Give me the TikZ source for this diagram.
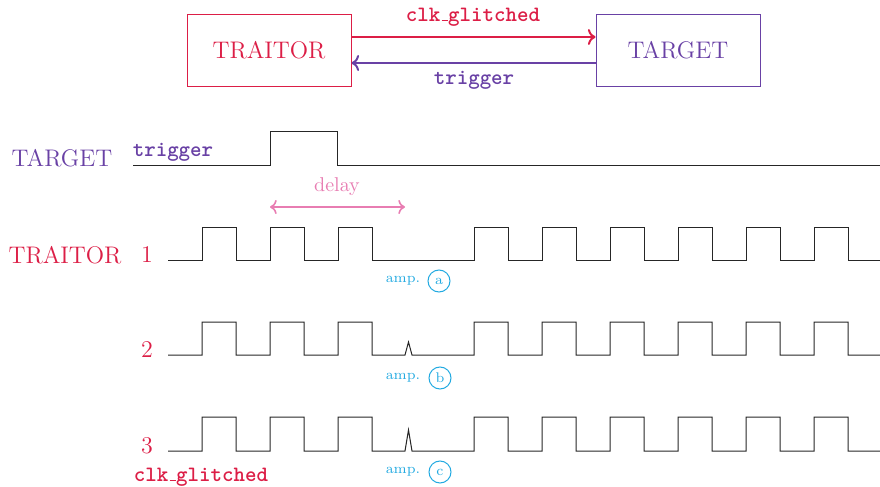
\documentclass[tikz,border=0pt]{standalone}
\usetikzlibrary{arrows.meta}
\definecolor{traitorc}{RGB}{220,30,70}
\definecolor{targetc}{RGB}{105,65,165}
\definecolor{delayc}{RGB}{232,125,178}
\definecolor{ampc}{RGB}{35,170,225}
% short underscore in the classic OT1 style
\newcommand{\ttus}{\kern.06em\vbox{\hrule height .5pt width .3em}}
\begin{document}
\begin{tikzpicture}[x=0.5pt,y=-0.5pt,
  box/.style={draw, minimum width=82pt, minimum height=36pt, font=\large, inner sep=0pt, line width=0.5pt},
  sig/.style={black!85, line width=0.5pt, line join=miter},
  link/.style={->, line width=1pt},
  rowlabel/.style={font=\large, text=traitorc},
  amplabel/.style={font=\scriptsize, text=ampc},
  badge/.style={circle, draw=ampc, text=ampc, font=\scriptsize, minimum size=11pt, inner sep=0pt, line width=0.5pt},
  ttlabel/.style={font=\fontsize{10.95}{13}\selectfont\ttfamily\bfseries}]
\useasboundingbox (0,0) rectangle (880,487);

% block diagram
\node[box, draw=traitorc, text=traitorc] (tr) at (269,50) {TRAITOR};
\node[box, draw=targetc, text=targetc] (tg) at (678,50) {TARGET};
\draw[link, traitorc] ([yshift=6.5pt]tr.east) -- ([yshift=6.5pt]tg.west);
\draw[link, targetc] ([yshift=-6.5pt]tg.west) -- ([yshift=-6.5pt]tr.east);
\node[ttlabel, text=traitorc] (lclk) at (473,17) {clk\ttus glitched};
\node[ttlabel, text=targetc] (ltrig) at (474,80) {trigger};

% trigger waveform
\node[font=\large, text=targetc] (ltarget) at (62,158) {TARGET};
\node[ttlabel, text=targetc] (wtrig) at (173,152) {trigger};
\draw[sig] (133,165) -- (270,165) -- (270,131) -- (337,131) -- (337,165) -- (880,165);

% delay
\draw[<->, delayc, line width=0.8pt] (270,207) -- (405,207);
\node[text=delayc] (ldelay) at (337,187) {delay};

% clock rows
\node[rowlabel] (ltraitor) at (65,255) {TRAITOR};
\node[rowlabel] (n1) at (147,255) {1};
\node[rowlabel] (n2) at (147,350) {2};
\node[rowlabel] (n3) at (147,446) {3};
\node[ttlabel, text=traitorc] (lclkg) at (201,477) {clk\ttus glitched};

% row 1: missing pulse
\draw[sig] (168,260)
  \foreach \x in {202,270,338} { -- (\x,260) -- (\x,227) -- (\x+34,227) -- (\x+34,260) }
  \foreach \x in {474,542,610,678,746,814} { -- (\x,260) -- (\x,227) -- (\x+34,227) -- (\x+34,260) }
  -- (880,260);
% row 2: small glitch
\draw[sig] (168,355)
  \foreach \x in {202,270,338} { -- (\x,355) -- (\x,322) -- (\x+34,322) -- (\x+34,355) }
  -- (405,355) -- (408.5,342) -- (412,355)
  \foreach \x in {474,542,610,678,746,814} { -- (\x,355) -- (\x,322) -- (\x+34,322) -- (\x+34,355) }
  -- (880,355);
% row 3: larger glitch
\draw[sig] (168,451)
  \foreach \x in {202,270,338} { -- (\x,451) -- (\x,417) -- (\x+34,417) -- (\x+34,451) }
  -- (405,451) -- (408.5,430) -- (412,451)
  \foreach \x in {474,542,610,678,746,814} { -- (\x,451) -- (\x,417) -- (\x+34,417) -- (\x+34,451) }
  -- (880,451);

% amplitude markers
\node[amplabel] (amp1) at (403,281) {amp.};
\node[badge] (ba) at (439,281) {a};
\node[amplabel] (amp2) at (403,378) {amp.};
\node[badge] (bb) at (440,378) {b};
\node[amplabel] (amp3) at (403,472) {amp.};
\node[badge] (bc) at (440,472) {c};
\end{tikzpicture}
\end{document}
